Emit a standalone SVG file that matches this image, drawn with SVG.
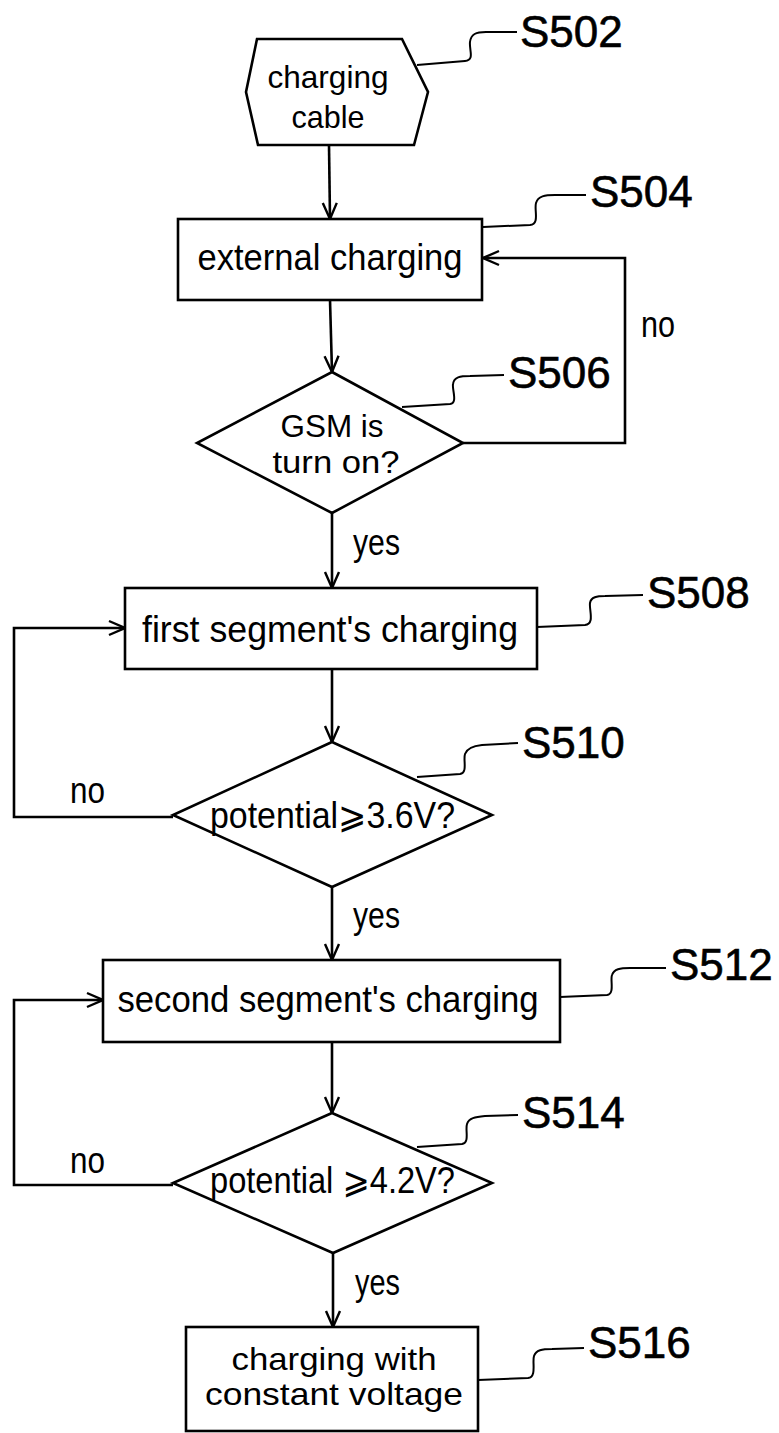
<svg xmlns="http://www.w3.org/2000/svg" width="779" height="1433" viewBox="0 0 779 1433">
<style>
.shape{fill:#fff;stroke:#000;stroke-width:2.6;stroke-linejoin:miter}
.line{fill:none;stroke:#000;stroke-width:2.6}
.lead{fill:none;stroke:#000;stroke-width:2}
.t{font-family:"Liberation Sans","DejaVu Sans",sans-serif;font-size:37px;fill:#000}
.t2{font-family:"Liberation Sans","DejaVu Sans",sans-serif;font-size:32px;fill:#000}
.c{text-anchor:middle}
.lbl{font-family:"Liberation Sans","DejaVu Sans",sans-serif;font-size:44px;fill:#000;stroke:#000;stroke-width:0.6}
</style>
<defs>
<marker id="arr" markerUnits="userSpaceOnUse" markerWidth="22" markerHeight="22" viewBox="0 0 22 22" refX="20" refY="11" orient="auto">
<path d="M4,4 L20,11 L4,18" fill="none" stroke="#000" stroke-width="2.4"/>
</marker>
</defs>
<rect width="779" height="1433" fill="#fff"/>

<g id="connectors">
<path class="line" d="M329,145 L330,219" marker-end="url(#arr)"/>
<path class="line" d="M330,300 L332,372" marker-end="url(#arr)"/>
<path class="line" d="M463,443 L625,443 L625,258 L483,258" marker-end="url(#arr)"/>
<path class="line" d="M332,513 L332,588" marker-end="url(#arr)"/>
<path class="line" d="M332,669 L332,742" marker-end="url(#arr)"/>
<path class="line" d="M173,817 L14,817 L14,628 L125,628" marker-end="url(#arr)"/>
<path class="line" d="M332,887 L332,960" marker-end="url(#arr)"/>
<path class="line" d="M332,1042 L332,1113" marker-end="url(#arr)"/>
<path class="line" d="M173,1185 L14,1185 L14,1000 L103,1000" marker-end="url(#arr)"/>
<path class="line" d="M333,1253 L333,1327" marker-end="url(#arr)"/>
<text class="t" x="641" y="337" textLength="34" lengthAdjust="spacingAndGlyphs">no</text>
<text class="t" x="353" y="555" textLength="47" lengthAdjust="spacingAndGlyphs">yes</text>
<text class="t" x="70" y="803" textLength="35" lengthAdjust="spacingAndGlyphs">no</text>
<text class="t" x="353" y="928" textLength="47" lengthAdjust="spacingAndGlyphs">yes</text>
<text class="t" x="70" y="1173" textLength="35" lengthAdjust="spacingAndGlyphs">no</text>
<text class="t" x="355" y="1295" textLength="45" lengthAdjust="spacingAndGlyphs">yes</text>
</g>

<g id="S502">
<polygon class="shape" points="246,92 257,39 402,39 428,92 414,145 258,145"/>
<text class="t2 c" x="328" y="88" textLength="121" lengthAdjust="spacingAndGlyphs">charging</text>
<text class="t2 c" x="328" y="128" textLength="73" lengthAdjust="spacingAndGlyphs">cable</text>
<path class="lead" d="M417,65 L465,61 C475,60 469,50 470,42 C471,34 476,32 486,32 L517,32"/>
<text class="lbl" x="520" y="47">S502</text>
</g>

<g id="S504">
<rect class="shape" x="178" y="219" width="304" height="81"/>
<text class="t c" x="330" y="270" textLength="265" lengthAdjust="spacingAndGlyphs">external charging</text>
<path class="lead" d="M483,227 L530,225 C540,224 534,210 536,203 C538,196 545,195 555,195 L586,195"/>
<text class="lbl" x="590" y="207">S504</text>
</g>

<g id="S506">
<polygon class="shape" points="332,372 463,443 332,513 197,443"/>
<text class="t2 c" x="332" y="437" textLength="103" lengthAdjust="spacingAndGlyphs">GSM is</text>
<text class="t2 c" x="336" y="473" textLength="127" lengthAdjust="spacingAndGlyphs">turn on?</text>
<path class="lead" d="M402,407 L450,404 C458,403 452,390 453,384 C454,377 460,376 470,376 L504,375"/>
<text class="lbl" x="508" y="388">S506</text>
</g>

<g id="S508">
<rect class="shape" x="125" y="588" width="412" height="81"/>
<text class="t c" x="330" y="642" textLength="376" lengthAdjust="spacingAndGlyphs">first segment's charging</text>
<path class="lead" d="M537,627 L585,625 C595,624 589,610 590,603 C591,597 597,596 605,596 L643,595"/>
<text class="lbl" x="647" y="608">S508</text>
</g>

<g id="S510">
<polygon class="shape" points="332,742 492,815 332,887 173,815"/>
<text class="t" x="210" y="828" textLength="245" lengthAdjust="spacingAndGlyphs">potential⩾3.6V?</text>
<path class="lead" d="M417,777 L460,774 C468,773 463,760 465,754 C467,748 473,746 482,745 L518,743"/>
<text class="lbl" x="522" y="758">S510</text>
</g>

<g id="S512">
<rect class="shape" x="103" y="960" width="457" height="82"/>
<text class="t c" x="328" y="1012" textLength="421" lengthAdjust="spacingAndGlyphs">second segment's charging</text>
<path class="lead" d="M560,997 L607,995 C615,994 610,980 612,975 C614,969 620,968 630,968 L666,968"/>
<text class="lbl" x="670" y="980">S512</text>
</g>

<g id="S514">
<polygon class="shape" points="332,1113 492,1183 333,1253 173,1183"/>
<text class="t" x="210" y="1193" textLength="245" lengthAdjust="spacingAndGlyphs">potential ⩾4.2V?</text>
<path class="lead" d="M417,1147 L462,1144 C470,1143 465,1130 467,1124 C469,1118 475,1117 485,1116 L518,1115"/>
<text class="lbl" x="522" y="1128">S514</text>
</g>

<g id="S516">
<rect class="shape" x="186" y="1327" width="292" height="104"/>
<text class="t2 c" x="334" y="1370" textLength="205" lengthAdjust="spacingAndGlyphs">charging with</text>
<text class="t2 c" x="334" y="1405" textLength="258" lengthAdjust="spacingAndGlyphs">constant voltage</text>
<path class="lead" d="M478,1380 L528,1378 C537,1377 532,1362 534,1356 C536,1350 542,1349 552,1349 L584,1348"/>
<text class="lbl" x="588" y="1358">S516</text>
</g>
</svg>
